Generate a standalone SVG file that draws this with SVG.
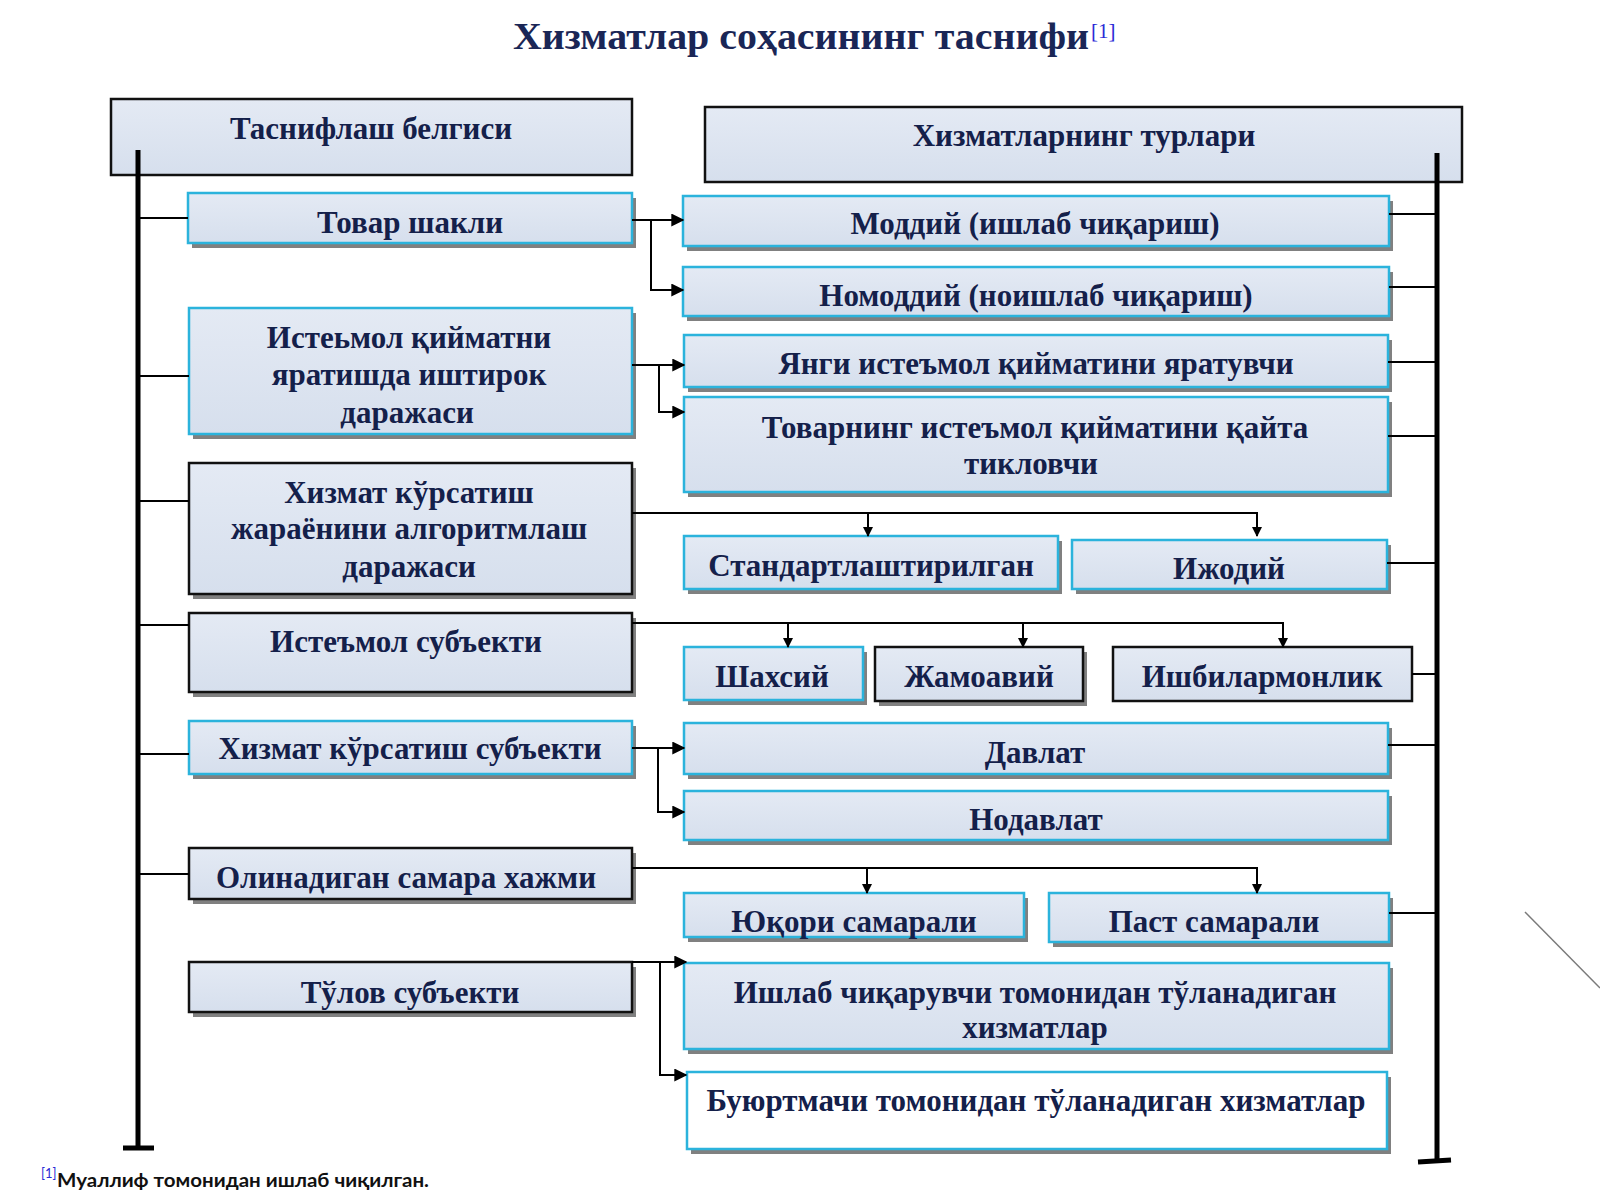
<svg xmlns="http://www.w3.org/2000/svg" width="1600" height="1200" viewBox="0 0 1600 1200">
<defs>
<linearGradient id="bg" x1="0" y1="0" x2="0" y2="1">
<stop offset="0" stop-color="#e4eaf4"/>
<stop offset="1" stop-color="#d6dfed"/>
</linearGradient>
<marker id="ar" viewBox="0 0 10 10" refX="9" refY="5" markerWidth="10" markerHeight="10" markerUnits="userSpaceOnUse" orient="auto">
<path d="M0,0 L10,5 L0,10 Z" fill="#000"/>
</marker>
<marker id="ar2" viewBox="0 0 10 10" refX="9" refY="5" markerWidth="13" markerHeight="13" markerUnits="userSpaceOnUse" orient="auto">
<path d="M0,0 L10,5 L0,10 Z" fill="#000"/>
</marker>
</defs>
<style>
.sh{fill:#808080;}
.bc{fill:url(#bg);stroke:#2bb3dc;stroke-width:2.5;}
.bk{fill:url(#bg);stroke:#111;stroke-width:2.5;}
.bw{fill:#ffffff;stroke:#2bb3dc;stroke-width:2.5;}
.t{font-family:"Liberation Serif","Times New Roman",serif;font-weight:bold;font-size:31px;fill:#14204a;text-anchor:middle;}
.ttl{font-family:"Liberation Serif","Times New Roman",serif;font-weight:bold;font-size:38px;fill:#1a2656;}
.c{fill:none;stroke:#000;stroke-width:2;}
.ax{fill:none;stroke:#000;stroke-width:5;}
</style>
<rect width="1600" height="1200" fill="#fff"/>

<g id="title">
<text class="ttl" x="513" y="49" textLength="576" lengthAdjust="spacingAndGlyphs">Хизматлар соҳасининг таснифи</text>
<text x="1091" y="38" font-family="Liberation Serif, serif" font-size="21" fill="#2a2ad6">[1]</text>
</g>

<g id="n-header-left"><rect class="bk" x="111" y="99" width="521" height="76"/><text class="t" x="371" y="139">Таснифлаш белгиси</text></g>
<g id="n-header-right"><rect class="bk" x="705" y="107" width="757" height="75"/><text class="t" x="1084" y="146">Хизматларнинг турлари</text></g>

<g id="axes">
<path class="ax" d="M138,150 V1148"/>
<path class="ax" d="M123,1148 H154"/>
<path class="ax" d="M1437,153 V1160"/>
<path class="ax" d="M1418,1162 L1451,1160"/>
<path d="M1525,912 L1600,988" stroke="#7a7a7a" stroke-width="1.5" fill="none"/>
</g>

<g id="n-tovar"><rect class="sh" x="192" y="198" width="444" height="50"/><rect class="bc" x="188" y="193" width="444" height="50"/><text class="t" x="410" y="233">Товар шакли</text></g>
<g id="n-moddiy"><rect class="sh" x="687" y="201" width="706" height="50"/><rect class="bc" x="683" y="196" width="706" height="50"/><text class="t" x="1035" y="234">Моддий (ишлаб чиқариш)</text></g>
<g id="n-nomoddiy"><rect class="sh" x="687" y="272" width="706" height="49"/><rect class="bc" x="683" y="267" width="706" height="49"/><text class="t" x="1036" y="306">Номоддий (ноишлаб чиқариш)</text></g>

<g id="n-isteymol-qiymat"><rect class="sh" x="193" y="313" width="443" height="126"/><rect class="bc" x="189" y="308" width="443" height="126"/><text class="t" x="409" y="348">Истеьмол қийматни</text><text class="t" x="409" y="385">яратишда иштирок</text><text class="t" x="407" y="423">даражаси</text></g>
<g id="n-yangi"><rect class="sh" x="688" y="340" width="704" height="52"/><rect class="bc" x="684" y="335" width="704" height="52"/><text class="t" x="1036" y="374">Янги истеъмол қийматини яратувчи</text></g>
<g id="n-tovarning"><rect class="sh" x="688" y="402" width="704" height="95"/><rect class="bc" x="684" y="397" width="704" height="95"/><text class="t" x="1035" y="438">Товарнинг истеъмол қийматини қайта</text><text class="t" x="1031" y="474">тикловчи</text></g>

<g id="n-algoritm"><rect class="sh" x="193" y="468" width="443" height="131"/><rect class="bk" x="189" y="463" width="443" height="131"/><text class="t" x="409" y="503">Хизмат кўрсатиш</text><text class="t" x="409" y="539">жараёнини алгоритмлаш</text><text class="t" x="409" y="577">даражаси</text></g>
<g id="n-standart"><rect class="sh" x="688" y="541" width="374" height="53"/><rect class="bc" x="684" y="536" width="374" height="53"/><text class="t" x="871" y="576">Стандартлаштирилган</text></g>
<g id="n-ijodiy"><rect class="sh" x="1076" y="545" width="315" height="49"/><rect class="bc" x="1072" y="540" width="315" height="49"/><text class="t" x="1229" y="579">Ижодий</text></g>

<g id="n-isteymol-subyekt"><rect class="sh" x="193" y="618" width="443" height="79"/><rect class="bk" x="189" y="613" width="443" height="79"/><text class="t" x="406" y="652">Истеъмол субъекти</text></g>
<g id="n-shaxsiy"><rect class="sh" x="688" y="652" width="179" height="53"/><rect class="bc" x="684" y="647" width="179" height="53"/><text class="t" x="772" y="687">Шахсий</text></g>
<g id="n-jamoaviy"><rect class="sh" x="879" y="652" width="208" height="54"/><rect class="bk" x="875" y="647" width="208" height="54"/><text class="t" x="979" y="687">Жамоавий</text></g>
<g id="n-ishbilarmon"><rect class="bk" x="1113" y="647" width="299" height="54"/><text class="t" x="1262" y="687">Ишбилармонлик</text></g>

<g id="n-xizmat-subyekt"><rect class="sh" x="193" y="726" width="443" height="53"/><rect class="bc" x="189" y="721" width="443" height="53"/><text class="t" x="410" y="759">Хизмат кўрсатиш субъекти</text></g>
<g id="n-davlat"><rect class="sh" x="688" y="728" width="704" height="51"/><rect class="bc" x="684" y="723" width="704" height="51"/><text class="t" x="1035" y="763">Давлат</text></g>
<g id="n-nodavlat"><rect class="sh" x="688" y="796" width="704" height="49"/><rect class="bc" x="684" y="791" width="704" height="49"/><text class="t" x="1036" y="830">Нодавлат</text></g>

<g id="n-samara"><rect class="sh" x="193" y="853" width="443" height="51"/><rect class="bk" x="189" y="848" width="443" height="51"/><text class="t" x="406" y="888">Олинадиган самара хажми</text></g>
<g id="n-yuqori"><rect class="sh" x="688" y="898" width="340" height="44"/><rect class="bc" x="684" y="893" width="340" height="44"/><text class="t" x="854" y="932">Юқори самарали</text></g>
<g id="n-past"><rect class="sh" x="1053" y="898" width="340" height="49"/><rect class="bc" x="1049" y="893" width="340" height="49"/><text class="t" x="1214" y="932">Паст самарали</text></g>

<g id="n-tolov"><rect class="sh" x="193" y="967" width="443" height="50"/><rect class="bk" x="189" y="962" width="443" height="50"/><text class="t" x="410" y="1003">Тўлов субъекти</text></g>
<g id="n-ishlab"><rect class="sh" x="688" y="968" width="705" height="86"/><rect class="bc" x="684" y="963" width="705" height="86"/><text class="t" x="1035" y="1003">Ишлаб чиқарувчи томонидан тўланадиган</text><text class="t" x="1035" y="1038">хизматлар</text></g>
<g id="n-buyurtmachi"><rect class="sh" x="691" y="1077" width="700" height="77"/><rect class="bw" x="687" y="1072" width="700" height="77"/><text class="t" x="1036" y="1111">Буюртмачи томонидан тўланадиган хизматлар</text></g>

<g id="connectors">
<path class="c" d="M138,218 H188"/>
<path class="c" d="M138,376 H189"/>
<path class="c" d="M138,501 H189"/>
<path class="c" d="M138,625 H189"/>
<path class="c" d="M138,754 H189"/>
<path class="c" d="M138,874 H189"/>

<path class="c" d="M1389,214 H1437"/>
<path class="c" d="M1389,287 H1437"/>
<path class="c" d="M1388,362 H1437"/>
<path class="c" d="M1388,436 H1437"/>
<path class="c" d="M1387,563 H1437"/>
<path class="c" d="M1412,674 H1437"/>
<path class="c" d="M1388,745 H1437"/>
<path class="c" d="M1389,913 H1437"/>

<path class="c" d="M632,220 H683" marker-end="url(#ar2)"/>
<path class="c" d="M651,220 V290 H683" marker-end="url(#ar2)"/>
<path class="c" d="M632,365 H684" marker-end="url(#ar2)"/>
<path class="c" d="M659,365 V412 H684" marker-end="url(#ar2)"/>
<path class="c" d="M632,513 H1257 V536" marker-end="url(#ar)"/>
<path class="c" d="M868,513 V536" marker-end="url(#ar)"/>
<path class="c" d="M632,623 H1283 V647" marker-end="url(#ar)"/>
<path class="c" d="M788,623 V647" marker-end="url(#ar)"/>
<path class="c" d="M1023,623 V647" marker-end="url(#ar)"/>
<path class="c" d="M632,748 H684" marker-end="url(#ar2)"/>
<path class="c" d="M658,748 V812 H684" marker-end="url(#ar2)"/>
<path class="c" d="M632,868 H1257 V893" marker-end="url(#ar)"/>
<path class="c" d="M867,868 V893" marker-end="url(#ar)"/>
<path class="c" d="M632,962 H686" marker-end="url(#ar2)"/>
<path class="c" d="M660,962 V1075 H686" marker-end="url(#ar2)"/>
</g>

<g id="footnote">
<text x="41" y="1178" font-family="Lato, 'Noto Sans', sans-serif" font-size="13" fill="#2a2ad6">[1]</text>
<text x="57" y="1187" font-family="Lato, 'Noto Sans', sans-serif" font-weight="bold" font-size="19" fill="#111" textLength="372" lengthAdjust="spacingAndGlyphs">Муаллиф томонидан ишлаб чиқилган.</text>
</g>
</svg>
